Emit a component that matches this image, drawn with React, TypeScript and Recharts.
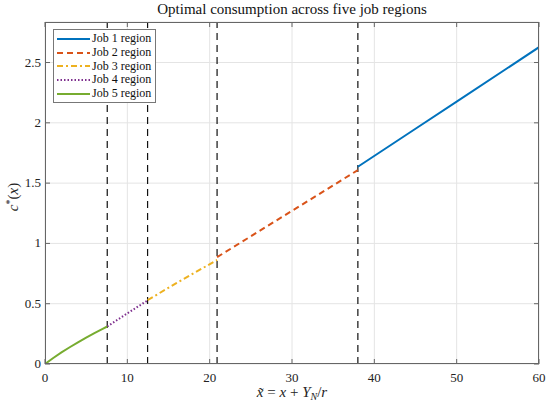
import React from 'react'
import {
  LineChart,
  Line,
  XAxis,
  YAxis,
  CartesianGrid,
  ReferenceLine,
  Label,
} from 'recharts'

// region boundaries (x tilde)
const boundaries = [7.56, 12.46, 20.9, 38.0]

// series
const job1X = [38.0, 45, 50, 60]
const job1C = [1.636, 1.951, 2.176, 2.627]
const job2X = [20.9, 25, 30, 38.0]
const job2C = [0.886, 1.059, 1.27, 1.608]
const job3X = [12.46, 16, 20.9]
const job3C = [0.53, 0.672, 0.863]
const job4X = [7.56, 10, 12.46]
const job4C = [0.311, 0.42, 0.527]
const job5X = [0, 1, 2, 3, 4, 5, 6, 7, 7.56]
const job5C = [0, 0.05, 0.096, 0.139, 0.18, 0.219, 0.256, 0.291, 0.311]

const xTicks = [0, 10, 20, 30, 40, 50, 60]
const yTicks = [0, 0.5, 1, 1.5, 2, 2.5]

const zip = (xs: number[], cs: number[]) => xs.map((x, i) => ({ x, c: cs[i] }))

const FONT = '"Liberation Serif", "DejaVu Serif", serif'

const series = [
  { name: 'Job 1 region', data: zip(job1X, job1C), color: '#0072BD', dash: undefined },
  { name: 'Job 2 region', data: zip(job2X, job2C), color: '#D95319', dash: '6 4' },
  { name: 'Job 3 region', data: zip(job3X, job3C), color: '#EDB120', dash: '6 3 2 3' },
  { name: 'Job 4 region', data: zip(job4X, job4C), color: '#7E2F8E', dash: '1.5 2' },
  { name: 'Job 5 region', data: zip(job5X, job5C), color: '#77AC30', dash: undefined },
]

// plot frame
const PLOT = { left: 45, top: 22, width: 494, height: 342 }

function LegendBox() {
  return (
    <div
      style={{
        position: 'absolute',
        left: 53,
        top: 29,
        background: '#fff',
        border: '1px solid #777',
        padding: '2px 4px 2px 3px',
        fontFamily: FONT,
        fontSize: 12,
        color: '#111',
      }}
    >
      {series.map((s) => (
        <div key={s.name} style={{ display: 'flex', alignItems: 'center', height: 13.7 }}>
          <svg width={33} height={6} style={{ marginRight: 2 }}>
            <line x1={0} y1={3} x2={33} y2={3} stroke={s.color} strokeWidth={2} strokeDasharray={s.dash} />
          </svg>
          <span>{s.name}</span>
        </div>
      ))}
    </div>
  )
}

function XTick(props: any) {
  const { x, y, payload } = props
  return (
    <g>
      <line x1={x} y1={PLOT.top + PLOT.height} x2={x} y2={PLOT.top + PLOT.height - 5} stroke="#666" />
      <line x1={x} y1={PLOT.top} x2={x} y2={PLOT.top + 5} stroke="#666" />
      <text x={x} y={y + 10} textAnchor="middle" fontFamily={FONT} fontSize={13} fill="#222">
        {payload.value}
      </text>
    </g>
  )
}

function YTick(props: any) {
  const { y, payload } = props
  return (
    <g>
      <line x1={PLOT.left} y1={y} x2={PLOT.left + 5} y2={y} stroke="#666" />
      <line x1={PLOT.left + PLOT.width} y1={y} x2={PLOT.left + PLOT.width - 5} y2={y} stroke="#666" />
      <text x={PLOT.left - 4} y={y + 4} textAnchor="end" fontFamily={FONT} fontSize={13} fill="#222">
        {payload.value}
      </text>
    </g>
  )
}

function XLabel(props: any) {
  const vb = props.viewBox
  const cx = vb.x + vb.width / 2
  return (
    <text x={cx} y={397} textAnchor="middle" fontFamily={FONT} fontSize={15} fill="#222">
      <tspan fontStyle="italic">x̃</tspan>
      <tspan> = </tspan>
      <tspan fontStyle="italic">x</tspan>
      <tspan> + </tspan>
      <tspan fontStyle="italic">Y</tspan>
      <tspan fontStyle="italic" fontSize={10} dy={3}>N</tspan>
      <tspan dy={-3}>/</tspan>
      <tspan fontStyle="italic">r</tspan>
    </text>
  )
}

function YLabel(props: any) {
  const vb = props.viewBox
  const cy = vb.y + vb.height / 2 + 4
  return (
    <text
      x={0}
      y={0}
      transform={`translate(18, ${cy}) rotate(-90)`}
      textAnchor="middle"
      fontFamily={FONT}
      fontSize={15}
      fill="#222"
    >
      <tspan fontStyle="italic">c</tspan>
      <tspan fontSize={10} dy={-5}>*</tspan>
      <tspan dy={5}>(</tspan>
      <tspan fontStyle="italic">x</tspan>
      <tspan>)</tspan>
    </text>
  )
}

export default function App() {
  return (
    <div style={{ position: 'absolute', left: 0, top: 0, width: 550, height: 406, background: '#fff' }}>
      <div
        style={{
          position: 'absolute',
          top: 1,
          left: PLOT.left,
          width: PLOT.width,
          textAlign: 'center',
          fontFamily: FONT,
          fontSize: 15,
          color: '#111',
        }}
      >
        Optimal consumption across five job regions
      </div>
      <LineChart width={550} height={406} margin={{ top: 22, right: 11, bottom: 0, left: 5 }}>
        <CartesianGrid stroke="#e4e4e4" horizontal vertical />
        <XAxis
          type="number"
          dataKey="x"
          domain={[0, 60]}
          ticks={xTicks}
          allowDataOverflow
          height={42}
          axisLine={false}
          tickLine={false}
          tickMargin={2}
          tick={<XTick />}
        >
          <Label content={<XLabel />} />
        </XAxis>
        <YAxis
          type="number"
          dataKey="c"
          domain={[0, 2.836]}
          ticks={yTicks}
          allowDataOverflow
          width={40}
          axisLine={false}
          tickLine={false}
          tickMargin={2}
          tick={<YTick />}
        >
          <Label content={<YLabel />} />
        </YAxis>
        {boundaries.map((b) => (
          <ReferenceLine key={b} x={b} stroke="#111" strokeWidth={1.2} strokeDasharray="7 5" />
        ))}
        {series.map((s) => (
          <Line
            key={s.name}
            data={s.data}
            dataKey="c"
            name={s.name}
            type="linear"
            stroke={s.color}
            strokeWidth={2}
            strokeDasharray={s.dash}
            dot={false}
            activeDot={false}
            isAnimationActive={false}
          />
        ))}
      </LineChart>
      <div
        style={{
          position: 'absolute',
          left: PLOT.left,
          top: PLOT.top,
          width: PLOT.width,
          height: PLOT.height,
          border: '1px solid #666',
          boxSizing: 'border-box',
          pointerEvents: 'none',
        }}
      />
      <LegendBox />
    </div>
  )
}
